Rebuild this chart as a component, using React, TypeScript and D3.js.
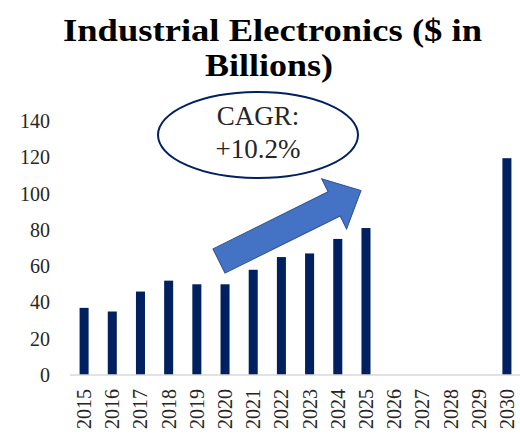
import React from "react";
import * as d3 from "d3";

const years = ["2015","2016","2017","2018","2019","2020","2021","2022","2023","2024","2025","2026","2027","2028","2029","2030"];
const values: (number | null)[] = [37, 35, 46, 52, 50, 50, 58, 65, 67, 75, 81, null, null, null, null, 119.5];
const yTicks = [0, 20, 40, 60, 80, 100, 120, 140];
const titleLines = ["Industrial Electronics ($ in", "Billions)"];
const cagrLines = ["CAGR:", "+10.2%"];

const W = 520;
const H = 437;
const margin = { left: 70, right: -1, top: 121, bottom: 62 };
const serif = "Liberation Serif, DejaVu Serif, serif";
const textStyle = { fontFamily: serif };

export default function App() {
  const x = d3
    .scaleBand<string>()
    .domain(years)
    .range([margin.left, W - margin.right])
    .paddingInner(0.68)
    .paddingOuter(0.34);
  const y = d3.scaleLinear().domain([0, 140]).range([H - margin.bottom, margin.top]);

  // Growth arrow, built in its own frame then rotated into place
  const tail: [number, number] = [219, 261];
  const tip: [number, number] = [361, 190.5];
  const ang = (Math.atan2(tip[1] - tail[1], tip[0] - tail[0]) * 180) / Math.PI;
  const len = Math.hypot(tip[0] - tail[0], tip[1] - tail[1]);
  const shaftW = 27;
  const headW = 56;
  const headL = 30;
  const arrowPts: [number, number][] = [
    [0, -shaftW / 2],
    [len - headL, -shaftW / 2],
    [len - headL, -headW / 2],
    [len, 0],
    [len - headL, headW / 2],
    [len - headL, shaftW / 2],
    [0, shaftW / 2],
  ];
  const arrowPath = d3.line()(arrowPts) + "Z";

  return (
    <svg
      width={W}
      height={H}
      style={{ position: "absolute", left: 0, top: 0, background: "#fff" }}
    >
      {/* title */}
      <text x={272.5} y={41} textAnchor="middle" fontWeight="bold" fontSize={31} fill="#000"
        style={textStyle} textLength={419} lengthAdjust="spacingAndGlyphs">
        {titleLines[0]}
      </text>
      <text x={269} y={76} textAnchor="middle" fontWeight="bold" fontSize={31} fill="#000"
        style={textStyle} textLength={128} lengthAdjust="spacingAndGlyphs">
        {titleLines[1]}
      </text>

      {/* y axis labels */}
      {yTicks.map((t) => (
        <text key={t} x={50} y={y(t)} dy="0.35em" textAnchor="end" fontSize={20} fill="#262626" style={textStyle}>
          {t}
        </text>
      ))}

      {/* bars */}
      {years.map((yr, i) =>
        values[i] == null ? null : (
          <rect
            key={yr}
            x={x(yr)}
            y={y(values[i] as number)}
            width={x.bandwidth()}
            height={y(0) - y(values[i] as number)}
            fill="#002060"
          />
        )
      )}

      {/* baseline */}
      <line x1={margin.left} x2={W} y1={y(0)} y2={y(0)} stroke="#d9d9d9" strokeWidth={1.5} />

      {/* x labels */}
      {years.map((yr) => {
        const cx = (x(yr) as number) + x.bandwidth() / 2;
        return (
          <text
            key={yr}
            transform={`translate(${cx},${389}) rotate(-90)`}
            dy="0.35em"
            textAnchor="end"
            fontSize={20}
            fill="#262626"
            style={textStyle}
          >
            {yr}
          </text>
        );
      })}

      {/* CAGR callout */}
      <ellipse cx={258} cy={135} rx={100} ry={43} fill="#fff" stroke="#002060" strokeWidth={2} />
      <text x={258} y={125} textAnchor="middle" fontSize={27} fill="#262626" style={textStyle}>
        {cagrLines[0]}
      </text>
      <text x={258} y={158} textAnchor="middle" fontSize={27} fill="#262626" style={textStyle}>
        {cagrLines[1]}
      </text>

      <path
        d={arrowPath}
        transform={`translate(${tail[0]},${tail[1]}) rotate(${ang})`}
        fill="#4472C4"
        stroke="#2F528F"
        strokeWidth={1}
      />
    </svg>
  );
}
